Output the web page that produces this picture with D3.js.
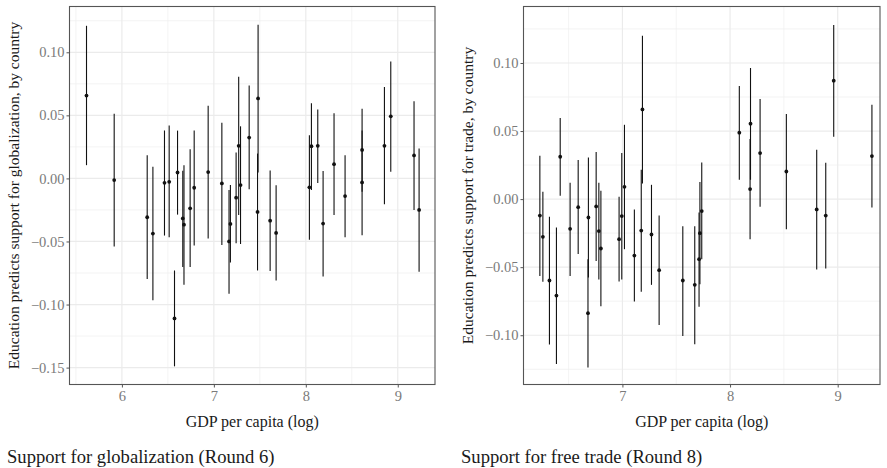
<!DOCTYPE html>
<html>
<head>
<meta charset="utf-8">
<script src="https://cdn.jsdelivr.net/npm/d3@7"></script>
<style>
  body { margin: 0; background: #fff; }
  svg text { font-family: "Liberation Serif", "DejaVu Serif", serif; }
</style>
</head>
<body>
<svg id="chart" width="887" height="468"></svg>
<script>
// ========= Data: globalization (Round 6) =========
const globGdp = [5.615, 5.916, 6.275, 6.337, 6.463, 6.514, 6.572, 6.605, 6.662, 6.675, 6.742, 6.786,
  6.938, 7.087, 7.165, 7.18, 7.242, 7.27, 7.29, 7.384, 7.475, 7.481, 7.612, 7.677,
  8.039, 8.061, 8.13, 8.188, 8.307, 8.427, 8.612, 8.612, 8.855, 8.924, 9.177, 9.232];
const globEst = [0.0657, -0.0013, -0.0308, -0.0437, -0.0035, -0.0027, -0.111, 0.0047, -0.0317, -0.0367, -0.0237, -0.0074,
  0.005, -0.004, -0.050, -0.0361, -0.0153, 0.0258, -0.0053, 0.0324, -0.0266, 0.0634, -0.0335, -0.0432,
  -0.0071, 0.0255, 0.0258, -0.0358, 0.0113, -0.014, 0.0226, -0.0032, 0.0258, 0.0492, 0.0182, -0.025];
const globLo = [0.0105, -0.054, -0.0798, -0.0967, -0.0453, -0.0466, -0.149, -0.0287, -0.0703, -0.0843, -0.0703, -0.0532,
  -0.0477, -0.0527, -0.0914, -0.0667, -0.0514, -0.029, -0.052, -0.0085, -0.073, 0.0047, -0.0735, -0.0809,
  -0.0487, -0.0092, -0.0037, -0.0777, -0.029, -0.0466, -0.0106, -0.045, -0.0205, 0.0052, -0.025, -0.074];
const globHi = [0.121, 0.0513, 0.0184, 0.0092, 0.038, 0.0419, -0.073, 0.0379, 0.006, 0.0105, 0.0231, 0.038,
  0.0577, 0.0442, -0.0092, -0.0053, 0.0205, 0.0806, 0.0413, 0.0737, 0.0197, 0.1219, 0.0063, -0.0055,
  0.0342, 0.0595, 0.0547, 0.0058, 0.0516, 0.0184, 0.0553, 0.038, 0.0724, 0.0927, 0.0611, 0.0237];

// ========= Data: free trade (Round 8) =========
const tradeGdp = [6.233, 6.261, 6.322, 6.387, 6.422, 6.514, 6.589, 6.684, 6.68, 6.756, 6.781, 6.80,
  6.969, 6.994, 7.019, 7.111, 7.186, 7.175, 7.27, 7.341, 7.561, 7.672, 7.712, 7.72, 7.737,
  8.086, 8.186, 8.19, 8.279, 8.523, 8.805, 8.889, 8.963, 9.318];
const tradeEst = [-0.0121, -0.0277, -0.0598, -0.0709, 0.0311, -0.0218, -0.0059, -0.0135, -0.0838, -0.0054, -0.0235, -0.0363,
  -0.0294, -0.0125, 0.009, -0.0415, 0.0659, -0.0231, -0.026, -0.0522, -0.0598, -0.063, -0.0441, -0.025, -0.0088,
  0.0488, 0.0074, 0.0554, 0.0338, 0.0203, -0.0076, -0.0121, 0.087, 0.0316];
const tradeLo = [-0.0564, -0.0608, -0.1069, -0.1211, 0.0024, -0.0564, -0.0404, -0.0576, -0.1238, -0.0454, -0.0591, -0.0787,
  -0.0606, -0.0591, -0.0368, -0.0753, 0.0115, -0.068, -0.063, -0.0924, -0.1005, -0.1066, -0.079, -0.0625, -0.0441,
  0.0142, -0.0294, 0.0142, -0.0057, -0.0221, -0.0518, -0.051, 0.0458, -0.0062];
const tradeHi = [0.0318, 0.0054, -0.013, -0.0209, 0.0596, 0.012, 0.0287, 0.0306, -0.0441, 0.0346, 0.012, 0.0061,
  0.0017, 0.0338, 0.0546, -0.0076, 0.12, 0.0215, 0.0105, -0.0121, -0.0199, -0.0199, -0.0098, 0.0125, 0.0269,
  0.0831, 0.0441, 0.0963, 0.0735, 0.0625, 0.0363, 0.0267, 0.128, 0.0693];

// ========= Ticks =========
const globXTicks = [6, 7, 8, 9];
const globYTicks = [-0.15, -0.10, -0.05, 0.00, 0.05, 0.10];
const tradeXTicks = [7, 8, 9];
const tradeYTicks = [-0.10, -0.05, 0.00, 0.05, 0.10];

const svg = d3.select('#chart');

function panel(opts) {
  const x = d3.scaleLinear().domain(opts.xDomain).range([opts.left, opts.right]);
  const y = d3.scaleLinear().domain(opts.yDomain).range([opts.bottom, opts.top]);
  const g = svg.append('g');

  // minor grid (midpoints between major ticks)
  const xStep = opts.xTicks[1] - opts.xTicks[0];
  const yStep = opts.yTicks[1] - opts.yTicks[0];
  const xMinor = d3.range(opts.xTicks[0] - xStep / 2, opts.xDomain[1], xStep).filter(v => v > opts.xDomain[0]);
  const yMinor = d3.range(opts.yTicks[0] - yStep / 2, opts.yDomain[1], yStep).filter(v => v > opts.yDomain[0]);

  g.selectAll('.xminor').data(xMinor).enter().append('line')
    .attr('x1', d => x(d)).attr('x2', d => x(d))
    .attr('y1', opts.top).attr('y2', opts.bottom)
    .attr('stroke', '#f0f0f0').attr('stroke-width', 0.8);
  g.selectAll('.yminor').data(yMinor).enter().append('line')
    .attr('y1', d => y(d)).attr('y2', d => y(d))
    .attr('x1', opts.left).attr('x2', opts.right)
    .attr('stroke', '#f0f0f0').attr('stroke-width', 0.8);

  // major grid
  g.selectAll('.xmajor').data(opts.xTicks).enter().append('line')
    .attr('x1', d => x(d)).attr('x2', d => x(d))
    .attr('y1', opts.top).attr('y2', opts.bottom)
    .attr('stroke', '#ebebeb').attr('stroke-width', 1.2);
  g.selectAll('.ymajor').data(opts.yTicks).enter().append('line')
    .attr('y1', d => y(d)).attr('y2', d => y(d))
    .attr('x1', opts.left).attr('x2', opts.right)
    .attr('stroke', '#ebebeb').attr('stroke-width', 1.2);

  // error bars
  g.selectAll('.bar').data(opts.gdp).enter().append('line')
    .attr('x1', d => x(d)).attr('x2', d => x(d))
    .attr('y1', (d, i) => y(opts.lo[i])).attr('y2', (d, i) => y(opts.hi[i]))
    .attr('stroke', '#111').attr('stroke-width', 1.1);

  // point estimates
  g.selectAll('.pt').data(opts.gdp).enter().append('circle')
    .attr('cx', d => x(d)).attr('cy', (d, i) => y(opts.est[i]))
    .attr('r', 1.9).attr('fill', '#111');

  // border
  g.append('rect')
    .attr('x', opts.left).attr('y', opts.top)
    .attr('width', opts.right - opts.left).attr('height', opts.bottom - opts.top)
    .attr('fill', 'none').attr('stroke', '#555').attr('stroke-width', 1.1);

  // axes
  const xAxis = g.append('g')
    .attr('transform', `translate(0,${opts.bottom})`)
    .call(d3.axisBottom(x).tickValues(opts.xTicks).tickSize(3).tickPadding(3).tickFormat(d3.format('d')));
  const yAxis = g.append('g')
    .attr('transform', `translate(${opts.left},0)`)
    .call(d3.axisLeft(y).tickValues(opts.yTicks).tickSize(3).tickPadding(2)
      .tickFormat(d => d3.format('.2f')(d).replace('-', '\u2212')));
  [xAxis, yAxis].forEach(a => {
    a.select('.domain').remove();
    a.selectAll('line').attr('stroke', '#555');
    a.selectAll('text').attr('fill', '#7a7a7a').style('font-size', '14.5px')
      .style('font-family', '"Liberation Serif", serif');
  });

  // titles
  g.append('text')
    .attr('x', (opts.left + opts.right) / 2).attr('y', 427)
    .attr('text-anchor', 'middle').attr('fill', '#1a1a1a')
    .style('font-size', '16px')
    .text('GDP per capita (log)');

  g.append('text')
    .attr('transform', `translate(${opts.yTitleX},${(opts.top + opts.bottom) / 2}) rotate(-90)`)
    .attr('text-anchor', 'middle').attr('fill', '#1a1a1a')
    .style('font-size', '15.5px')
    .text(opts.yTitle);

  g.append('text')
    .attr('x', opts.captionX).attr('y', 463)
    .attr('fill', '#1a1a1a')
    .style('font-size', '18.6px')
    .text(opts.caption);
}

panel({
  left: 69.5, right: 435, top: 6.5, bottom: 384.5,
  xDomain: [5.43, 9.405], yDomain: [-0.1634, 0.1363],
  xTicks: globXTicks, yTicks: globYTicks,
  gdp: globGdp, est: globEst, lo: globLo, hi: globHi,
  yTitle: 'Education predicts support for globalization, by country', yTitleX: 19,
  caption: 'Support for globalization (Round 6)', captionX: 7
});

panel({
  left: 523.5, right: 880, top: 6.5, bottom: 384.5,
  xDomain: [6.081, 9.393], yDomain: [-0.1362, 0.1415],
  xTicks: tradeXTicks, yTicks: tradeYTicks,
  gdp: tradeGdp, est: tradeEst, lo: tradeLo, hi: tradeHi,
  yTitle: 'Education predicts support for trade, by country', yTitleX: 473,
  caption: 'Support for free trade (Round 8)', captionX: 461
});
</script>
</body>
</html>
